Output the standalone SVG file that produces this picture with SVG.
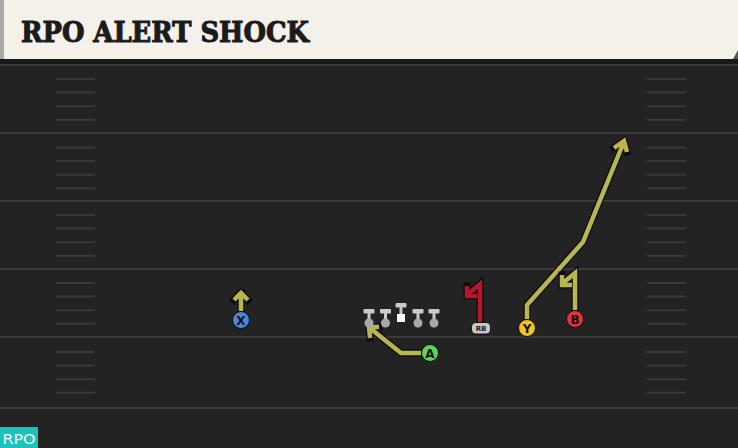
<svg xmlns="http://www.w3.org/2000/svg" width="738" height="448" viewBox="0 0 738 448">
<defs>
<style>
.yard{stroke:#3a3a3a;stroke-width:2}
.hash{stroke:#393939;stroke-width:2}
.ro{fill:none;stroke:#0d0d0d;stroke-width:7;stroke-linejoin:miter;stroke-linecap:square}
.ry{fill:none;stroke:#b7b64f;stroke-width:4.5;stroke-linejoin:miter;stroke-linecap:butt}
.rr{fill:none;stroke:#b5172f;stroke-width:4.5;stroke-linejoin:miter;stroke-linecap:butt}
.lab{font-family:"DejaVu Sans","Liberation Sans",sans-serif;font-weight:bold;font-size:12px;fill:#111;text-anchor:middle}
.ol{fill:#c9c9c9}
.olc{fill:#a8a8a8}
</style>
<g id="hashL">
<line class="hash" x1="56" y1="0" x2="95" y2="0"/>
<line class="hash" x1="56" y1="13.6" x2="95" y2="13.6"/>
<line class="hash" x1="56" y1="27.2" x2="95" y2="27.2"/>
<line class="hash" x1="56" y1="40.8" x2="95" y2="40.8"/>
<line class="hash" x1="647" y1="0" x2="686" y2="0"/>
<line class="hash" x1="647" y1="13.6" x2="686" y2="13.6"/>
<line class="hash" x1="647" y1="27.2" x2="686" y2="27.2"/>
<line class="hash" x1="647" y1="40.8" x2="686" y2="40.8"/>
</g>
</defs>
<rect width="738" height="448" fill="#232323"/>
<rect x="0" y="59" width="738" height="5" fill="#191919"/>
<g id="field">
<line class="yard" x1="0" y1="65" x2="738" y2="65"/>
<line class="yard" x1="0" y1="133" x2="738" y2="133"/>
<line class="yard" x1="0" y1="201" x2="738" y2="201"/>
<line class="yard" x1="0" y1="269" x2="738" y2="269"/>
<line class="yard" x1="0" y1="337" x2="738" y2="337"/>
<line class="yard" x1="0" y1="408" x2="738" y2="408"/>
<use href="#hashL" y="79"/>
<use href="#hashL" y="147.5"/>
<use href="#hashL" y="215"/>
<use href="#hashL" y="283"/>
<use href="#hashL" y="352"/>
</g>
<g id="header">
<rect x="0" y="0" width="738" height="59" fill="#f4f1ea"/>
<rect x="0" y="0" width="4" height="59" fill="#a9a9a6"/>
<polygon points="733,59 738,50 738,59" fill="#555"/>
<text x="21" y="42" font-family="'DejaVu Serif','Liberation Serif',serif" font-weight="bold" font-size="27" fill="#1b1b1b" stroke="#1b1b1b" stroke-width="1" textLength="288" lengthAdjust="spacingAndGlyphs">RPO ALERT SHOCK</text>
</g>
<g id="connectors">
<path class="ro" d="M241,311 V293 M234,300 L241,293 L248,300"/>
<path class="ry" d="M241,311 V293 M234,300 L241,293 L248,300"/>
<path class="ro" d="M421,353 H401 L371,329 M370,338 L369,327 L379,327"/>
<path class="ry" d="M421,353 H401 L371,329 M370,338 L369,327 L379,327"/>
<path class="ro" d="M527,319 V305 L583,242 L623,144 M614,148 L624,141 L627,152"/>
<path class="ry" d="M527,319 V305 L583,242 L623,144 M614,148 L624,141 L627,152"/>
<path class="ro" d="M575,310 V273 L563,283 M562,275 L562,285 L572,285"/>
<path class="ry" d="M575,310 V273 L563,283 M562,275 L562,285 L572,285"/>
<path class="ro" d="M480,322 V284 L468,294 M467,286 L467,296 L477,296"/>
<path class="rr" d="M480,322 V284 L468,294 M467,286 L467,296 L477,296"/>
</g>
<g id="node-X">
<circle cx="241" cy="320" r="8.5" fill="#4a86df" stroke="#0d0d0d" stroke-width="1"/>
<text class="lab" x="241" y="324.5">X</text>
</g>
<g id="node-OL">
<g class="ol">
<rect x="363.5" y="309" width="11" height="4.5" rx="1"/><rect x="367.5" y="312" width="3" height="10"/>
<rect x="380" y="309" width="11" height="4.5" rx="1"/><rect x="384" y="312" width="3" height="10"/>
<rect x="395.5" y="303" width="11" height="4.5" rx="1"/><rect x="399.5" y="306" width="3" height="10"/>
<rect x="412.5" y="309" width="11" height="4.5" rx="1"/><rect x="416.5" y="312" width="3" height="10"/>
<rect x="428.5" y="309" width="11" height="4.5" rx="1"/><rect x="432.5" y="312" width="3" height="10"/>
</g>
<rect x="397" y="314" width="8" height="8" fill="#ffffff"/>
<circle class="olc" cx="369" cy="323" r="4.5"/>
<circle class="olc" cx="385.5" cy="323" r="4.5"/>
<circle class="olc" cx="418" cy="323" r="4.5"/>
<circle class="olc" cx="434" cy="323" r="4.5"/>
</g>
<g id="node-A">
<circle cx="430" cy="353" r="8.5" fill="#5ed35a" stroke="#0d0d0d" stroke-width="1"/>
<text class="lab" x="430" y="357.5">A</text>
</g>
<g id="node-RB">
<rect x="471.5" y="322.5" width="19" height="11.5" rx="4" fill="#c7c7c7" stroke="#0d0d0d" stroke-width="1"/>
<text x="481" y="331.2" font-family="'DejaVu Sans',sans-serif" font-size="7" font-weight="bold" fill="#222" text-anchor="middle">RB</text>
</g>
<g id="node-Y">
<circle cx="527" cy="328" r="8.5" fill="#f1c31d" stroke="#0d0d0d" stroke-width="1"/>
<text class="lab" x="527" y="332.5">Y</text>
</g>
<g id="node-B">
<circle cx="575" cy="319" r="8.5" fill="#e2333b" stroke="#0d0d0d" stroke-width="1"/>
<text class="lab" x="575" y="323.5">B</text>
</g>
<g id="tag">
<rect x="0" y="427" width="38" height="21" fill="#1cc3bb"/>
<text x="19" y="443.5" font-family="'DejaVu Sans','Liberation Sans',sans-serif" font-size="14" fill="#f2f2f2" text-anchor="middle" textLength="33" lengthAdjust="spacingAndGlyphs">RPO</text>
</g>
</svg>
